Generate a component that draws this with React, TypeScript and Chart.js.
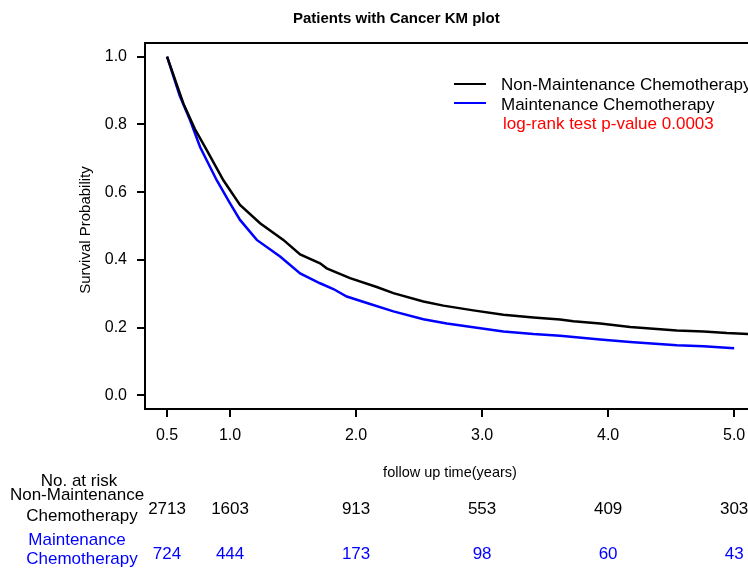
import React, { useEffect, useRef } from "react";
import { Chart, registerables } from "chart.js";

Chart.register(...registerables);

// ---- data ----
const xTicks = [0.5, 1, 2, 3, 4, 5];
const yTicks = [0, 0.2, 0.4, 0.6, 0.8, 1.0];

const nonMaintTime = [0.5, 0.63, 0.72, 0.815, 0.947, 1.079, 1.238, 1.423, 1.556, 1.714, 1.767, 1.952, 2.164, 2.296, 2.534, 2.693, 2.93, 3.169, 3.407, 3.619, 3.724, 3.937, 4.175, 4.545, 4.757, 4.942, 5.2];
const nonMaintSurv = [1.0, 0.861, 0.787, 0.724, 0.635, 0.562, 0.508, 0.459, 0.416, 0.39, 0.375, 0.346, 0.32, 0.302, 0.277, 0.265, 0.251, 0.238, 0.23, 0.224, 0.219, 0.212, 0.202, 0.192, 0.189, 0.184, 0.18];

const maintTime = [0.5, 0.6, 0.683, 0.762, 0.894, 1.0, 1.079, 1.212, 1.397, 1.556, 1.714, 1.82, 1.926, 2.111, 2.296, 2.534, 2.72, 2.93, 3.169, 3.407, 3.619, 3.937, 4.175, 4.545, 4.757, 5.0];
const maintSurv = [1.0, 0.885, 0.812, 0.733, 0.635, 0.567, 0.518, 0.459, 0.41, 0.36, 0.331, 0.314, 0.292, 0.27, 0.248, 0.225, 0.212, 0.201, 0.189, 0.181, 0.176, 0.165, 0.158, 0.148, 0.145, 0.139];

const seriesLabels = ["Non-Maintenance Chemotherapy", "Maintenance Chemotherapy"];
const seriesColors = ["#000000", "#0000FF"];

const riskTimes = [0.5, 1, 2, 3, 4, 5];
const riskNonMaint = [2713, 1603, 913, 553, 409, 303];
const riskMaint = [724, 444, 173, 98, 60, 43];

const titleText = "Patients with Cancer KM plot";
const pValueText = "log-rank test p-value 0.0003";
const xTitle = "follow up time(years)";
const yTitle = "Survival Probability";

const FONT = "'Liberation Sans', Arial, Helvetica, sans-serif";

const decorPlugin = {
  id: "decor",
  afterDraw(chart: any) {
    const ctx = chart.ctx as CanvasRenderingContext2D;
    const ca = chart.chartArea;
    const xs = chart.scales.x;
    ctx.save();
    // box (left, top, bottom; right side lies beyond the canvas)
    ctx.strokeStyle = "#000";
    ctx.lineWidth = 2;
    ctx.beginPath();
    ctx.moveTo(ca.right + 2, ca.top);
    ctx.lineTo(ca.left, ca.top);
    ctx.lineTo(ca.left, ca.bottom);
    ctx.lineTo(ca.right + 2, ca.bottom);
    ctx.stroke();

    // title
    ctx.fillStyle = "#000";
    ctx.font = `bold 15px ${FONT}`;
    ctx.textAlign = "left";
    ctx.textBaseline = "alphabetic";
    ctx.fillText(titleText, 293, 23);

    // legend
    const legendY = [84, 103];
    const legendBase = [90, 109.5];
    seriesLabels.forEach((lab, i) => {
      ctx.strokeStyle = seriesColors[i];
      ctx.lineWidth = 2;
      ctx.beginPath();
      ctx.moveTo(454, legendY[i]);
      ctx.lineTo(486, legendY[i]);
      ctx.stroke();
      ctx.fillStyle = "#000";
      ctx.font = `17px ${FONT}`;
      ctx.textAlign = "left";
      ctx.fillText(lab, 501, legendBase[i]);
    });
    ctx.fillStyle = "#FF0000";
    ctx.font = `17px ${FONT}`;
    ctx.fillText(pValueText, 503, 128.5);

    // axis titles
    ctx.fillStyle = "#000";
    ctx.font = `14.5px ${FONT}`;
    ctx.textAlign = "center";
    ctx.fillText(xTitle, 450, 477);
    ctx.save();
    ctx.translate(89.5, 230);
    ctx.rotate(-Math.PI / 2);
    ctx.font = `15px ${FONT}`;
    ctx.fillText(yTitle, 0, 0);
    ctx.restore();

    // risk table
    ctx.font = `17px ${FONT}`;
    ctx.textAlign = "center";
    ctx.fillStyle = "#000";
    ctx.fillText("No. at risk", 79, 486);
    ctx.fillText("Non-Maintenance", 77, 500);
    ctx.fillText("Chemotherapy", 82, 520.5);
    ctx.fillStyle = "#0000FF";
    ctx.fillText("Maintenance", 77, 544.5);
    ctx.fillText("Chemotherapy", 82, 563.5);
    riskTimes.forEach((t, i) => {
      const px = xs.getPixelForValue(t);
      ctx.fillStyle = "#000";
      ctx.fillText(String(riskNonMaint[i]), px, 513.5);
      ctx.fillStyle = "#0000FF";
      ctx.fillText(String(riskMaint[i]), px, 558.5);
    });
    ctx.restore();
  },
};

export default function App() {
  const ref = useRef<HTMLCanvasElement | null>(null);
  useEffect(() => {
    if (!ref.current) return;
    const chart = new Chart(ref.current, {
      type: "line",
      data: {
        datasets: [
          {
            label: seriesLabels[0],
            data: nonMaintTime.map((t, i) => ({ x: t, y: nonMaintSurv[i] })),
            borderColor: seriesColors[0],
            borderWidth: 2.5,
            pointRadius: 0,
            tension: 0,
            fill: false,
          },
          {
            label: seriesLabels[1],
            data: maintTime.map((t, i) => ({ x: t, y: maintSurv[i] })),
            borderColor: seriesColors[1],
            borderWidth: 2.5,
            pointRadius: 0,
            tension: 0,
            fill: false,
          },
        ],
      },
      options: {
        animation: false,
        responsive: true,
        maintainAspectRatio: false,
        layout: { padding: { left: 0, top: 43, right: 0, bottom: 0 } },
        plugins: {
          legend: { display: false },
          title: { display: false },
          tooltip: { enabled: false },
        },
        scales: {
          x: {
            type: "linear",
            min: 0.325,
            max: 5.11,
            afterBuildTicks: (s: any) => {
              s.ticks = xTicks.map((v) => ({ value: v }));
            },
            afterFit: (s: any) => {
              s.height = 160;
              s.paddingLeft = 0;
              s.paddingRight = 0;
            },
            grid: {
              drawOnChartArea: false,
              drawTicks: true,
              tickLength: 8,
              color: "#000",
              lineWidth: 2,
            },
            border: { display: false },
            ticks: {
              color: "#000",
              font: { family: FONT, size: 16 },
              padding: 9,
              maxRotation: 0,
              autoSkip: false,
              callback: (v: any) => Number(v).toFixed(1),
            },
          },
          y: {
            type: "linear",
            min: -0.04,
            max: 1.04,
            afterBuildTicks: (s: any) => {
              s.ticks = yTicks.map((v) => ({ value: v }));
            },
            afterFit: (s: any) => {
              s.width = 145;
              s.paddingTop = 0;
              s.paddingBottom = 0;
            },
            grid: {
              drawOnChartArea: false,
              drawTicks: true,
              tickLength: 8,
              color: "#000",
              lineWidth: 2,
            },
            border: { display: false },
            ticks: {
              color: "#000",
              font: { family: FONT, size: 16 },
              padding: 10,
              autoSkip: false,
              callback: (v: any) => Number(v).toFixed(1),
            },
          },
        },
      },
      plugins: [decorPlugin],
    });
    return () => chart.destroy();
  }, []);
  return (
    <div style={{ position: "fixed", left: 0, top: 0, width: 748, height: 569, background: "#fff" }}>
      <canvas ref={ref} />
    </div>
  );
}
